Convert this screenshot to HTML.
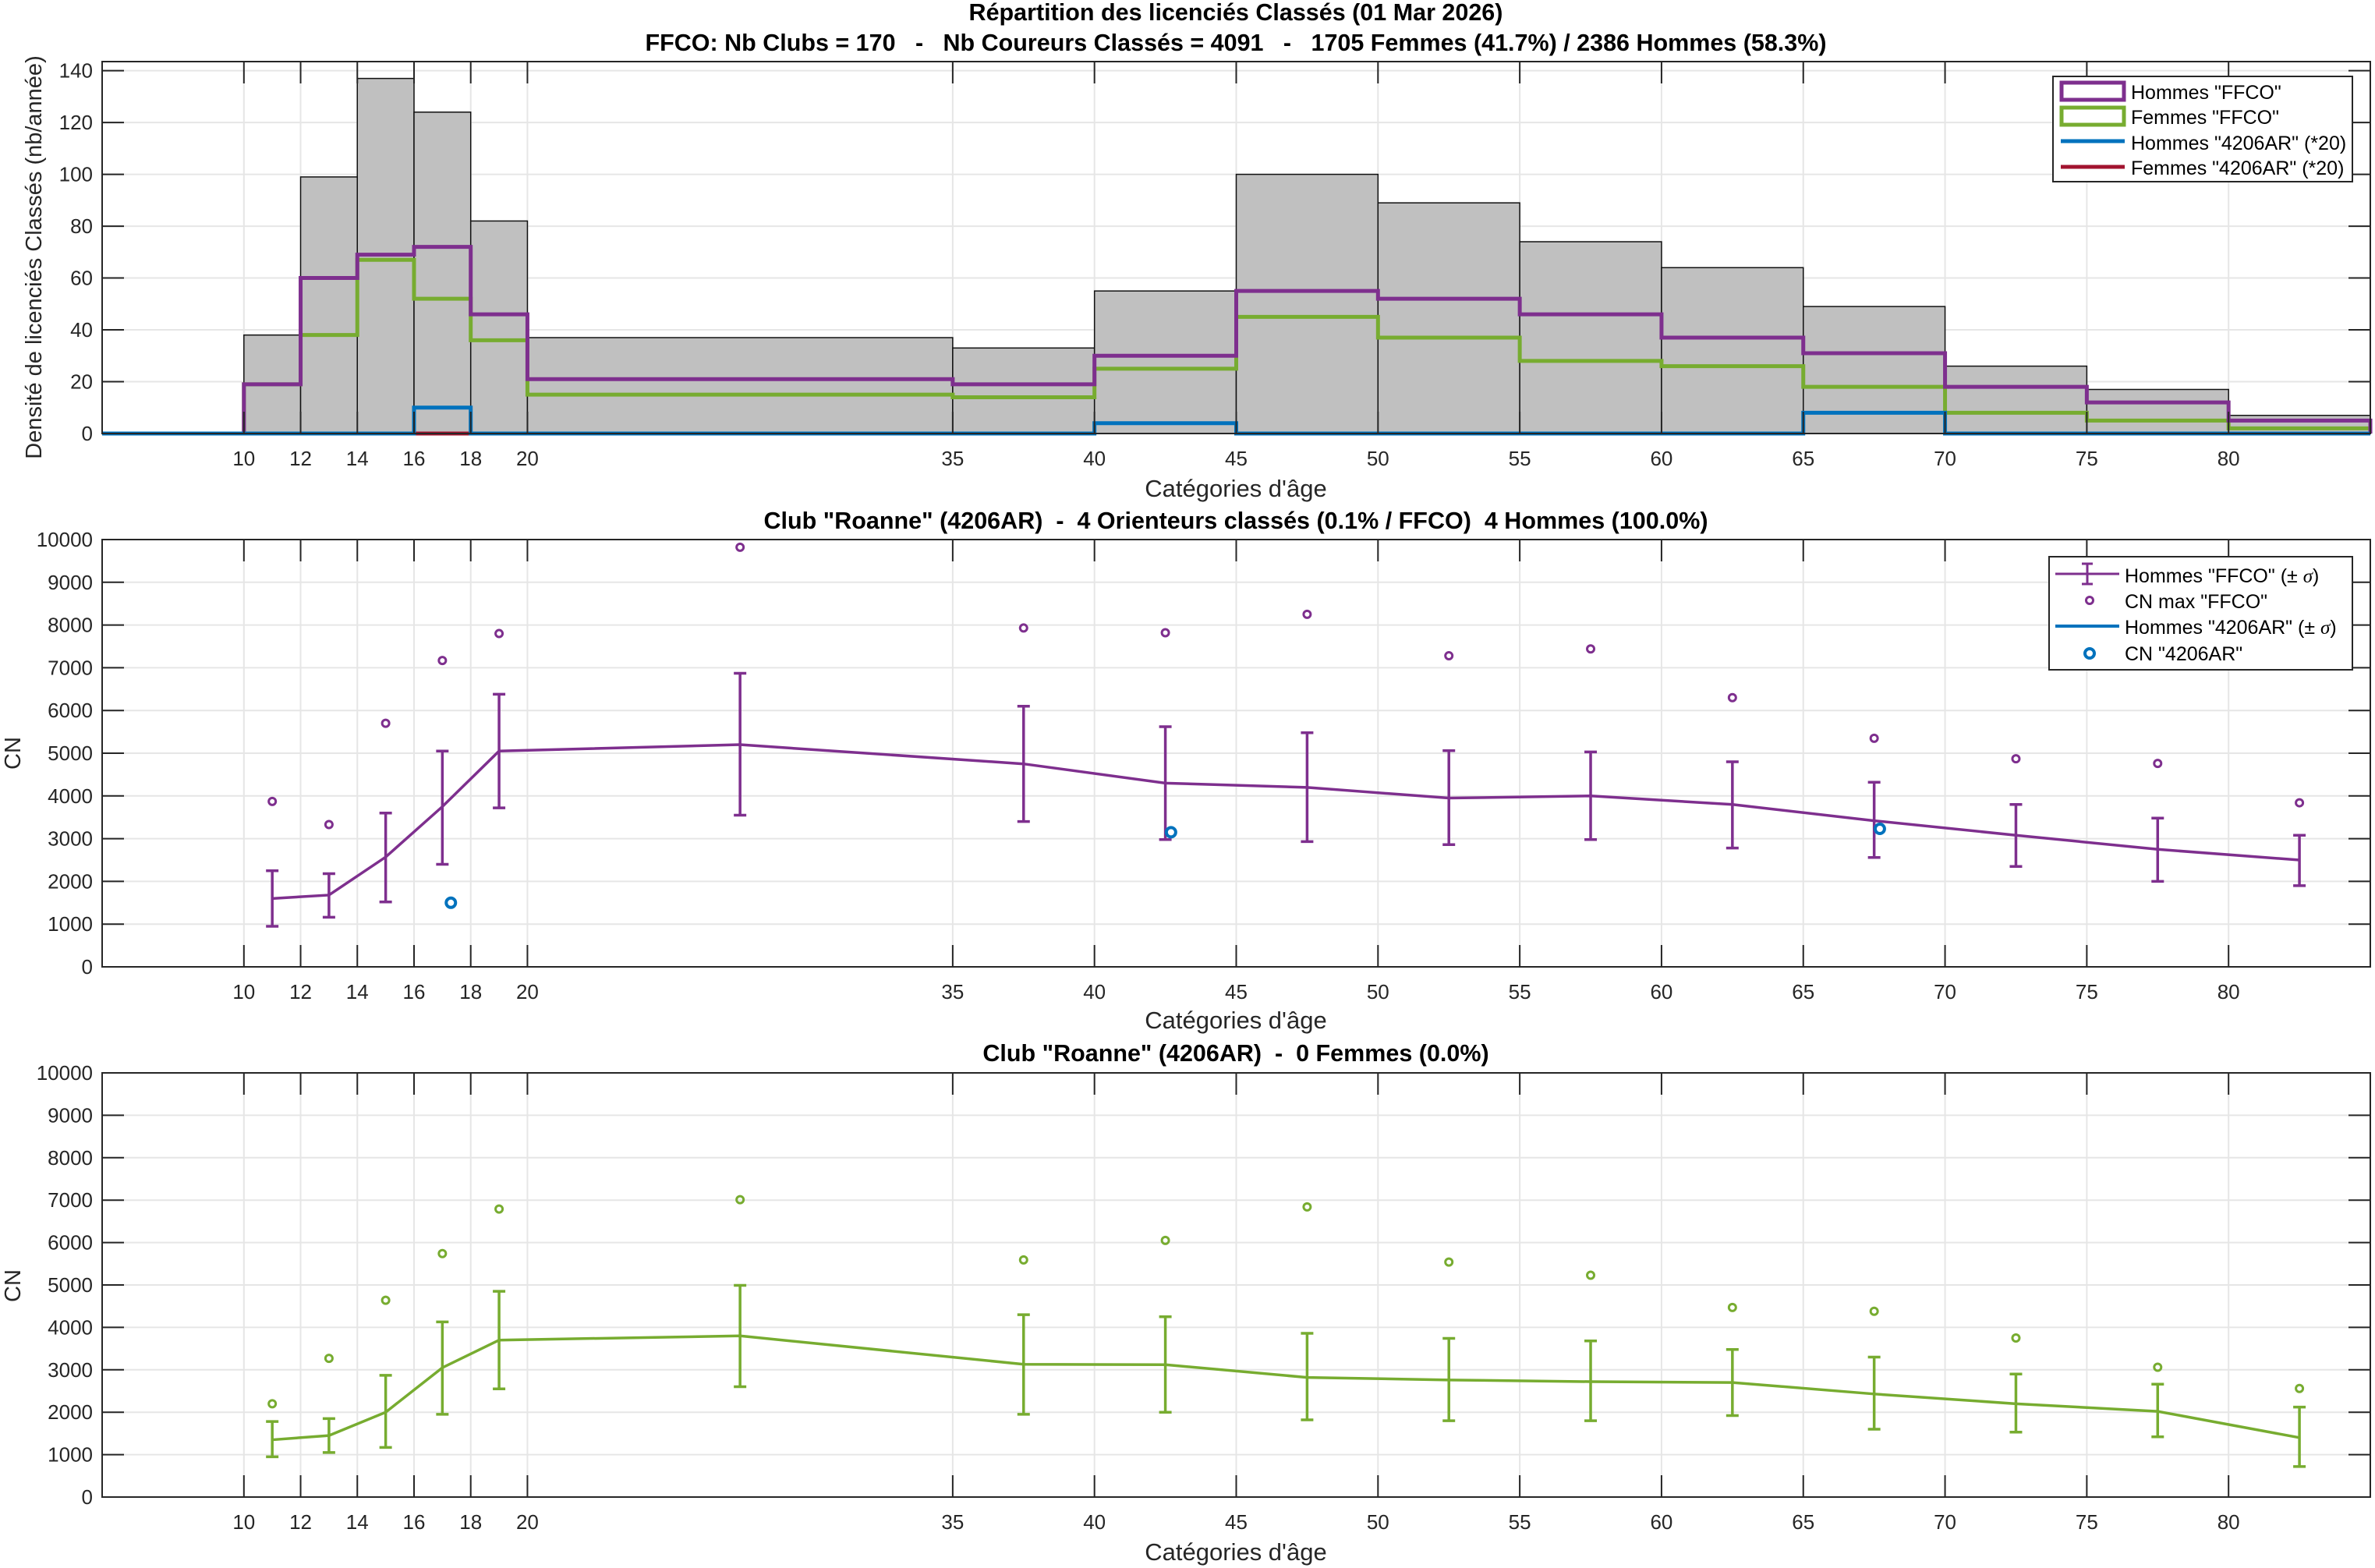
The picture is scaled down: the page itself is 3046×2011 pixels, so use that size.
<!DOCTYPE html>
<html><head><meta charset="utf-8"><style>
html,body{margin:0;padding:0;background:#fff;}
svg{display:block;font-family:"Liberation Sans",Arial,sans-serif;}
.tk{font-size:26px;fill:#262626;}
.ti{font-size:30.5px;font-weight:bold;fill:#000;}
.lb{font-size:31px;fill:#262626;}
.lby{font-size:29px;fill:#262626;}
.lg{font-size:25px;fill:#000;}
</style></head><body>
<svg id="s" width="3046" height="2011" viewBox="0 0 3046 2011" xmlns="http://www.w3.org/2000/svg">
<rect width="3046" height="2011" fill="#fff"/>
<g id="g"></g>
<!-- titles -->
<text class="ti" x="1585" y="26" text-anchor="middle">Répartition des licenciés Classés (01 Mar 2026)</text>
<text class="ti" x="1585" y="65" text-anchor="middle" textLength="1515" lengthAdjust="spacingAndGlyphs">FFCO: Nb Clubs = 170 &#160; - &#160; Nb Coureurs Classés = 4091 &#160; - &#160; 1705 Femmes (41.7%) / 2386 Hommes (58.3%)</text>
<text class="ti" x="1585" y="678" text-anchor="middle" textLength="1211" lengthAdjust="spacingAndGlyphs">Club "Roanne" (4206AR) &#160;- &#160;4 Orienteurs classés (0.1% / FFCO) &#160;4 Hommes (100.0%)</text>
<text class="ti" x="1585" y="1361" text-anchor="middle">Club "Roanne" (4206AR) &#160;- &#160;0 Femmes (0.0%)</text>
<!-- axis labels -->
<text class="lb" x="1585" y="637" text-anchor="middle">Catégories d'âge</text>
<text class="lb" x="1585" y="1319" text-anchor="middle">Catégories d'âge</text>
<text class="lb" x="1585" y="2001" text-anchor="middle">Catégories d'âge</text>
<text class="lby" transform="translate(53,330) rotate(-90)" text-anchor="middle">Densité de licenciés Classés (nb/année)</text>
<text class="lby" transform="translate(26,966) rotate(-90)" text-anchor="middle">CN</text>
<text class="lby" transform="translate(26,1649) rotate(-90)" text-anchor="middle">CN</text>
<!-- x tick labels -->
<g id="xt1" class="tk" text-anchor="middle"><text>10</text><text>12</text><text>14</text><text>16</text><text>18</text><text>20</text><text>35</text><text>40</text><text>45</text><text>50</text><text>55</text><text>60</text><text>65</text><text>70</text><text>75</text><text>80</text></g>
<g id="xt2" class="tk" text-anchor="middle"><text>10</text><text>12</text><text>14</text><text>16</text><text>18</text><text>20</text><text>35</text><text>40</text><text>45</text><text>50</text><text>55</text><text>60</text><text>65</text><text>70</text><text>75</text><text>80</text></g>
<g id="xt3" class="tk" text-anchor="middle"><text>10</text><text>12</text><text>14</text><text>16</text><text>18</text><text>20</text><text>35</text><text>40</text><text>45</text><text>50</text><text>55</text><text>60</text><text>65</text><text>70</text><text>75</text><text>80</text></g>
<!-- y tick labels -->
<g id="yt1" class="tk" text-anchor="end"><text>0</text><text>20</text><text>40</text><text>60</text><text>80</text><text>100</text><text>120</text><text>140</text></g>
<g id="yt2" class="tk" text-anchor="end"><text>0</text><text>1000</text><text>2000</text><text>3000</text><text>4000</text><text>5000</text><text>6000</text><text>7000</text><text>8000</text><text>9000</text><text>10000</text></g>
<g id="yt3" class="tk" text-anchor="end"><text>0</text><text>1000</text><text>2000</text><text>3000</text><text>4000</text><text>5000</text><text>6000</text><text>7000</text><text>8000</text><text>9000</text><text>10000</text></g>
<!-- legend 1 -->
<g id="lg1">
<rect x="2633" y="98" width="384" height="135" fill="#fff" stroke="#262626" stroke-width="2"/>
<rect x="2644" y="106" width="80" height="22" fill="none" stroke="#7E2F8E" stroke-width="5"/>
<rect x="2644" y="138" width="80" height="22" fill="none" stroke="#77AC30" stroke-width="5"/>
<line x1="2643" y1="181" x2="2725" y2="181" stroke="#0072BD" stroke-width="5"/>
<line x1="2643" y1="214" x2="2725" y2="214" stroke="#A2142F" stroke-width="5"/>
<text class="lg" x="2733" y="127">Hommes "FFCO"</text>
<text class="lg" x="2733" y="159">Femmes "FFCO"</text>
<text class="lg" x="2733" y="192">Hommes "4206AR" (*20)</text>
<text class="lg" x="2733" y="224">Femmes "4206AR" (*20)</text>
</g>
<g id="lg2">
<rect x="2628" y="714" width="389" height="145" fill="#fff" stroke="#262626" stroke-width="2"/>
<line x1="2636" y1="736" x2="2718" y2="736" stroke="#7E2F8E" stroke-width="3"/>
<line x1="2677" y1="723" x2="2677" y2="749" stroke="#7E2F8E" stroke-width="3"/>
<line x1="2670" y1="723" x2="2684" y2="723" stroke="#7E2F8E" stroke-width="3"/>
<line x1="2670" y1="749" x2="2684" y2="749" stroke="#7E2F8E" stroke-width="3"/>
<circle cx="2680" cy="770" r="4.5" fill="none" stroke="#7E2F8E" stroke-width="3"/>
<line x1="2636" y1="803" x2="2718" y2="803" stroke="#0072BD" stroke-width="4"/>
<circle cx="2680" cy="838" r="6" fill="none" stroke="#0072BD" stroke-width="4"/>
<text class="lg" x="2725" y="747">Hommes "FFCO" (± <tspan font-family="Liberation Serif" font-style="italic">σ</tspan>)</text>
<text class="lg" x="2725" y="780">CN max "FFCO"</text>
<text class="lg" x="2725" y="813">Hommes "4206AR" (± <tspan font-family="Liberation Serif" font-style="italic">σ</tspan>)</text>
<text class="lg" x="2725" y="847">CN "4206AR"</text>
</g>
</svg>
<script>
(function(){
var NS="http://www.w3.org/2000/svg",g=document.getElementById('g');
function el(t,a){var e=document.createElementNS(NS,t);for(var k in a)e.setAttribute(k,a[k]);g.appendChild(e);return e;}
var L=131,R=3040;function X(a){return L+(a-5)*(R-L)/80;}
var ax=[{t:79,b:556,max:143.5},{t:692,b:1240,max:10000},{t:1376,b:1920,max:10000}];
function Y(i,v){var A=ax[i];return A.b-v*(A.b-A.t)/A.max;}
var xt=[10,12,14,16,18,20,35,40,45,50,55,60,65,70,75,80];
var yts=[[0,20,40,60,80,100,120,140],[0,1000,2000,3000,4000,5000,6000,7000,8000,9000,10000],[0,1000,2000,3000,4000,5000,6000,7000,8000,9000,10000]];
var grid="#e6e6e6";
ax.forEach(function(A,i){
  el('rect',{x:L,y:A.t,width:R-L,height:A.b-A.t,fill:'#fff'});
  xt.forEach(function(v){el('line',{x1:X(v),x2:X(v),y1:A.t,y2:A.b,stroke:grid,'stroke-width':2});});
  yts[i].forEach(function(v){el('line',{x1:L,x2:R,y1:Y(i,v),y2:Y(i,v),stroke:grid,'stroke-width':2});});
});
var ed=[10,12,14,16,18,20,35,40,45,50,55,60,65,70,75,80,85];
var gray=[38,99,137,124,82,37,33,55,100,89,74,64,49,26,17,7];
var hom=[19,60,69,72,46,21,19,30,55,52,46,37,31,18,12,5];
var fem=[19,38,67,52,36,15,14,25,45,37,28,26,18,8,5,2];
var blu=[0,0,0,10,0,0,0,4,0,0,0,0,8,0,0,0];
for(var k=0;k<16;k++){el('rect',{x:X(ed[k]),y:Y(0,gray[k]),width:X(ed[k+1])-X(ed[k]),height:Y(0,0)-Y(0,gray[k]),fill:'#c0c0c0',stroke:'#111','stroke-width':1.5});}
function stairs(v,c,w){var d='M'+X(5)+','+Y(0,0)+' L'+X(10)+','+Y(0,0);for(var k=0;k<16;k++){d+=' L'+X(ed[k])+','+Y(0,v[k])+' L'+X(ed[k+1])+','+Y(0,v[k]);}d+=' L'+X(85)+','+Y(0,0);el('path',{d:d,fill:'none',stroke:c,'stroke-width':w,'stroke-linejoin':'miter'});}
el('line',{x1:X(16),x2:X(18),y1:Y(0,0),y2:Y(0,0),stroke:'#A2142F','stroke-width':5});
stairs(fem,'#77AC30',5);stairs(hom,'#7E2F8E',5);stairs(blu,'#0072BD',5);
var ag=[11,13,15,17,19,27.5,37.5,42.5,47.5,52.5,57.5,62.5,67.5,72.5,77.5,82.5];
var D=[{c:'#7E2F8E',m:[1600,1680,2570,3750,5050,5200,4750,4300,4200,3950,4000,3800,3420,3080,2750,2500],
u:[2250,2180,3600,5050,6380,6870,6100,5620,5480,5060,5030,4800,4320,3800,3480,3080],
l:[950,1160,1520,2400,3720,3550,3400,2980,2930,2860,2980,2780,2560,2350,2000,1900],
x:[3870,3330,5700,7170,7800,9820,7930,7820,8250,7280,7440,6300,5350,4870,4760,3840]},
{c:'#77AC30',m:[1350,1450,2000,3050,3700,3800,3130,3120,2820,2760,2720,2700,2430,2200,2020,1400],
u:[1780,1850,2870,4130,4850,4990,4300,4250,3860,3740,3680,3480,3300,2900,2660,2120],
l:[950,1050,1170,1950,2550,2600,1950,2000,1820,1800,1800,1920,1600,1530,1420,720],
x:[2200,3270,4640,5740,6790,7010,5590,6050,6840,5540,5230,4470,4380,3750,3060,2560]}];
D.forEach(function(S,j){var i=j+1;var d='';
 for(var k=0;k<16;k++){var x=X(ag[k]);d+=(k?' L':'M')+x+','+Y(i,S.m[k]);
  el('line',{x1:x,x2:x,y1:Y(i,S.u[k]),y2:Y(i,S.l[k]),stroke:S.c,'stroke-width':3.5});
  el('line',{x1:x-8,x2:x+8,y1:Y(i,S.u[k]),y2:Y(i,S.u[k]),stroke:S.c,'stroke-width':3.5});
  el('line',{x1:x-8,x2:x+8,y1:Y(i,S.l[k]),y2:Y(i,S.l[k]),stroke:S.c,'stroke-width':3.5});
  el('circle',{cx:x,cy:Y(i,S.x[k]),r:4.5,fill:'none',stroke:S.c,'stroke-width':3});}
 el('path',{d:d,fill:'none',stroke:S.c,'stroke-width':3.5});
});
[[17.3,1500],[42.7,3150],[67.7,3230]].forEach(function(p){el('circle',{cx:X(p[0]),cy:Y(1,p[1]),r:6,fill:'none',stroke:'#0072BD','stroke-width':4});});
ax.forEach(function(A,i){
  el('rect',{x:L,y:A.t,width:R-L,height:A.b-A.t,fill:'none',stroke:'#262626','stroke-width':2});
  var tl=28;
  xt.forEach(function(v){var x=X(v);el('line',{x1:x,x2:x,y1:A.b,y2:A.b-tl,stroke:'#262626','stroke-width':2});el('line',{x1:x,x2:x,y1:A.t,y2:A.t+tl,stroke:'#262626','stroke-width':2});});
  yts[i].forEach(function(v){var y=Y(i,v);el('line',{x1:L,x2:L+tl,y1:y,y2:y,stroke:'#262626','stroke-width':2});el('line',{x1:R,x2:R-tl,y1:y,y2:y,stroke:'#262626','stroke-width':2});});
});
var xty=[597,1281,1961];
['xt1','xt2','xt3'].forEach(function(id,i){var ts=document.getElementById(id).children;for(var k=0;k<ts.length;k++){ts[k].setAttribute('x',X(xt[k]));ts[k].setAttribute('y',xty[i]);}});
['yt1','yt2','yt3'].forEach(function(id,i){var ts=document.getElementById(id).children;for(var k=0;k<ts.length;k++){ts[k].setAttribute('x',119);ts[k].setAttribute('y',Y(i,yts[i][k])+9);}});
var s=document.getElementById('s');s.appendChild(document.getElementById('lg1'));s.appendChild(document.getElementById('lg2'));
})();
</script>
</body></html>
